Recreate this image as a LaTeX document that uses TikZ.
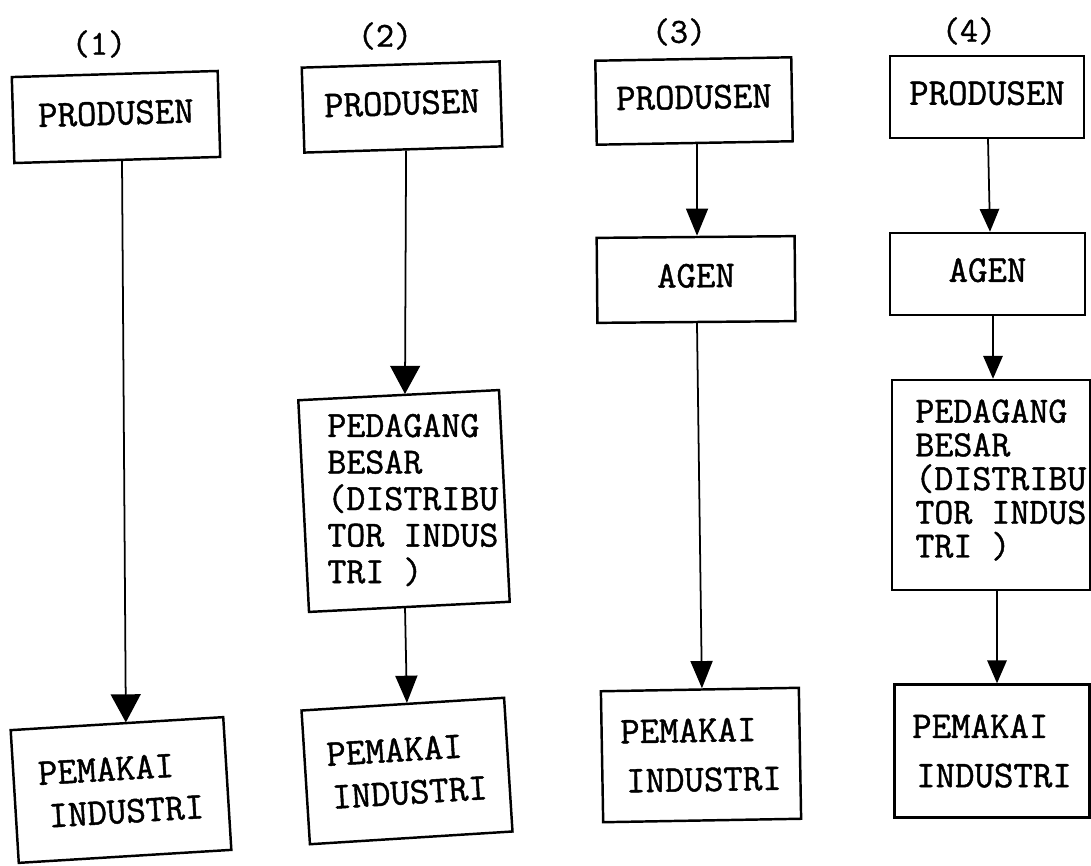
\documentclass[tikz,border=0pt]{standalone}
\usepackage{fontspec}
\newfontfamily\twfont{Latin Modern Mono}[FakeBold=1.2]
\usetikzlibrary{arrows.meta}
\tikzset{
  box/.style={draw, line width=1.4pt, inner sep=0pt, align=left,
    font=\fontsize{21.5}{24.5}\selectfont\twfont},
  boxwide/.style={box, font=\fontsize{21.5}{28}\selectfont\twfont},
  boxtext/.style={inner sep=0pt, align=left},
  numlabel/.style={inner sep=0pt, font=\fontsize{20}{24}\selectfont\twfont},
  conn/.style={line width=1pt},
  arrL/.style={conn, -{Triangle[width=17pt,length=16pt]}},
  arrM/.style={conn, -{Triangle[width=12.5pt,length=15.5pt]}},
  arrS/.style={conn, -{Triangle[width=11pt,length=13pt]}},
}
\begin{document}
\begin{tikzpicture}[x=0.02cm, y=-0.02cm]
\path[use as bounding box, fill=white] (0,0) rectangle (1091,865);

% labels
\node[numlabel] (l1) at (99,44) {(1)};
\node[numlabel] (l2) at (385,36) {(2)};
\node[numlabel] (l3) at (679,32) {(3)};
\node[numlabel] (l4) at (969,31) {(4)};

% column 1
\node[box, minimum width=4.12cm, minimum height=1.72cm, text depth=0.16cm, rotate=1.7] (c1a) at (116,117) {PRODUSEN};
\node[box, minimum width=4.26cm, minimum height=2.66cm, rotate=3.5] (c1b) at (121,790) {PEMAKAI\\\hspace*{0.16cm}INDUSTRI};

% column 2
\node[box, minimum width=3.96cm, minimum height=1.7cm, text depth=0.16cm, rotate=1.8] (c2a) at (402,107) {PRODUSEN};
\node[box, minimum width=4.02cm, minimum height=4.24cm, rotate=2.9] (c2b) at (404,501) {};
\node[boxtext, anchor=west, font=\fontsize{21}{20.8}\selectfont\twfont] (c2bt) at (327,500) {PEDAGANG\\BESAR\\(DISTRIBU\\TOR INDUS\\TRI )};
\node[box, minimum width=4.06cm, minimum height=2.68cm, rotate=3.6] (c2c) at (407,771) {PEMAKAI\\\hspace*{0.06cm}INDUSTRI};

% column 3
\node[box, minimum width=3.92cm, minimum height=1.68cm, text depth=0.16cm, rotate=1] (c3a) at (694,101) {PRODUSEN};
\node[box, minimum width=3.96cm, minimum height=1.7cm, text depth=0.16cm, rotate=0.5] (c3b) at (696,279.5) {AGEN};
\node[boxwide, minimum width=3.96cm, minimum height=2.62cm, rotate=1] (c3c) at (701,755) {PEMAKAI\\\hspace*{0.1cm}INDUSTRI};

% column 4
\node[box, minimum width=3.88cm, minimum height=1.64cm, text depth=0.16cm] (c4a) at (987,97) {PRODUSEN};
\node[box, minimum width=3.9cm, minimum height=1.64cm, text depth=0.16cm] (c4b) at (987.5,274) {AGEN};
\node[box, minimum width=3.96cm, minimum height=4.2cm] (c4c) at (991,485) {};
\node[boxtext, anchor=west, font=\fontsize{21}{19.2}\selectfont\twfont] (c4ct) at (915,480) {PEDAGANG\\BESAR\\(DISTRIBU\\TOR INDUS\\TRI )};
\node[boxwide, minimum width=3.9cm, minimum height=2.66cm] (c4d) at (992,751) {PEMAKAI\\\hspace*{0.08cm}INDUSTRI};

% connectors
\draw[arrL] ([xshift=0.094cm]c1a.south) -- ([xshift=0.18cm]c1b.north);
\draw[arrL] ([xshift=0.054cm]c2a.south) -- ([xshift=0.128cm]c2b.north);
\draw[arrM] ([xshift=-0.088cm]c2b.south) -- ([xshift=0.084cm]c2c.north);
\draw[arrM] ([xshift=0.046cm]c3a.south) -- ([xshift=0.028cm]c3b.north);
\draw[arrM] ([xshift=0.012cm]c3b.south) -- ([xshift=0.042cm]c3c.north);
\draw[arrS] ([xshift=0.02cm]c4a.south) -- ([xshift=0.05cm]c4b.north);
\draw[arrS] ([xshift=0.11cm]c4b.south) -- ([xshift=0.04cm]c4c.north);
\draw[arrS] ([xshift=0.12cm]c4c.south) -- ([xshift=0.1cm]c4d.north);
\end{tikzpicture}
\end{document}
